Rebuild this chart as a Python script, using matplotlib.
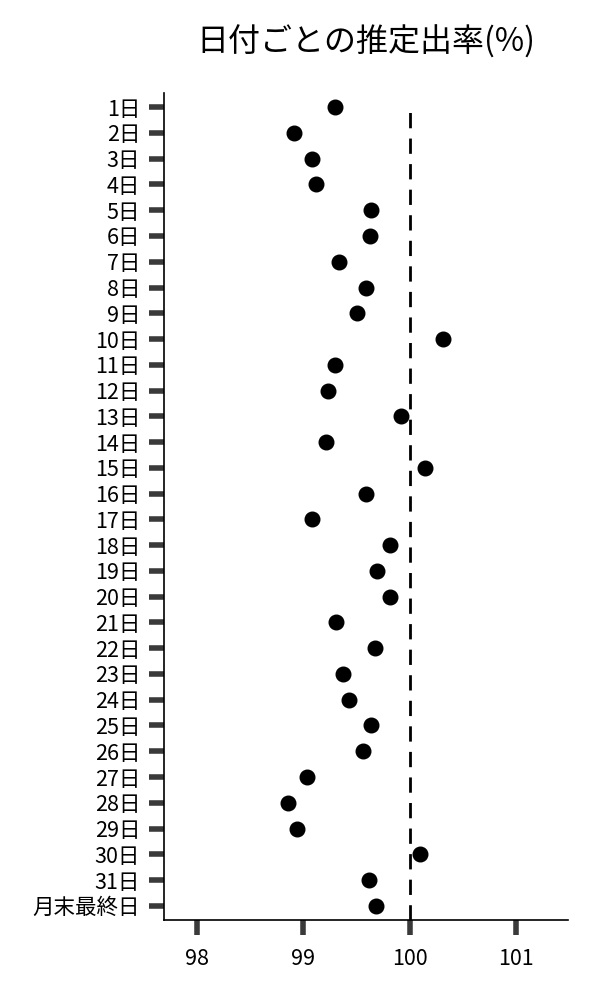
import numpy as np
import matplotlib
matplotlib.use('Agg')
from matplotlib import pyplot as plt

# day labels and estimated ratio (%)
days = [f'{i}日' for i in range(1, 32)] + ['月末最終日']
ratio = [99.30, 98.91, 99.08, 99.12, 99.64, 99.63, 99.34, 99.59, 99.51, 100.31,
         99.30, 99.23, 99.92, 99.21, 100.14, 99.59, 99.08, 99.82, 99.69, 99.82,
         99.31, 99.67, 99.37, 99.43, 99.64, 99.56, 99.04, 98.86, 98.94, 100.10,
         99.62, 99.68]
xticks = [98, 99, 100, 101]
ref_value = 100

plt.rcParams['font.family'] = ['Noto Sans CJK JP', 'DejaVu Sans']

fig = plt.figure(figsize=(6, 10), dpi=100)
ax = fig.add_axes([0.273, 0.08, 0.674, 0.827])

ypos = np.arange(len(days))
ax.plot(ratio, ypos, linestyle='', marker='o', markersize=10.5, color='black', zorder=3)
ax.plot([ref_value, ref_value], [31.55, -0.12], color='black', linewidth=2,
        dashes=[5.5, 3.7], zorder=2)

ax.set_yticks(ypos)
ax.set_yticklabels(days)
ax.set_ylim(31.55, -0.55)
ax.set_xticks(xticks)
ax.set_xticklabels([str(v) for v in xticks])
ax.set_xlim(97.69, 101.49)

for s in ['top', 'right']:
    ax.spines[s].set_visible(False)
for s in ['left', 'bottom']:
    ax.spines[s].set_linewidth(1.2)
    ax.spines[s].set_color('black')

ax.tick_params(axis='both', length=11, width=4, color='#3a3a3a', labelsize=15.5)
ax.tick_params(axis='y', pad=6)
ax.tick_params(axis='x', pad=9)

ax.set_title('日付ごとの推定出率(%)', fontsize=23, pad=30)

fig.savefig('out.png', dpi=100)
